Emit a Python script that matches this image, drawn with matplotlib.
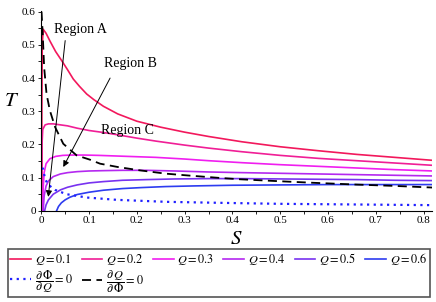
import matplotlib
matplotlib.use('Agg')
import matplotlib.pyplot as plt
from matplotlib.ticker import MultipleLocator

# values
S_q1 = [0.0008, 0.0012, 0.002, 0.004, 0.01, 0.018, 0.03, 0.043, 0.055, 0.067, 0.08, 0.095, 0.11,
        0.13, 0.16, 0.2, 0.25, 0.3, 0.35, 0.42, 0.5, 0.58, 0.66, 0.74, 0.82]
T_q1 = [0.0, 0.3, 0.5, 0.547, 0.535, 0.512, 0.48, 0.452, 0.425, 0.397, 0.375, 0.352, 0.335,
        0.315, 0.292, 0.27, 0.252, 0.237, 0.224, 0.208, 0.193, 0.181, 0.17, 0.161, 0.152]

S_q2 = [0.0012, 0.0015, 0.003, 0.008, 0.015, 0.025, 0.04, 0.055, 0.075, 0.1, 0.13, 0.16, 0.2,
        0.24, 0.3, 0.35, 0.42, 0.5, 0.58, 0.66, 0.74, 0.82]
T_q2 = [0.0, 0.2, 0.245, 0.259, 0.262, 0.262, 0.259, 0.256, 0.249, 0.242, 0.236, 0.229, 0.219,
        0.21, 0.198, 0.189, 0.178, 0.167, 0.158, 0.151, 0.144, 0.137]

S_q3 = [0.003, 0.004, 0.006, 0.01, 0.018, 0.03, 0.045, 0.065, 0.09, 0.12, 0.16, 0.2, 0.24,
        0.3, 0.35, 0.42, 0.5, 0.58, 0.66, 0.74, 0.82]
T_q3 = [0.0, 0.07, 0.115, 0.142, 0.157, 0.164, 0.167, 0.168, 0.168, 0.167, 0.165, 0.163, 0.161,
        0.156, 0.151, 0.145, 0.139, 0.134, 0.129, 0.124, 0.12]

S_q4 = [0.004, 0.006, 0.01, 0.015, 0.025, 0.04, 0.055, 0.075, 0.1, 0.13, 0.17, 0.22, 0.28,
        0.35, 0.42, 0.5, 0.58, 0.66, 0.74, 0.82]
T_q4 = [0.0, 0.045, 0.075, 0.09, 0.103, 0.111, 0.115, 0.118, 0.12, 0.121, 0.122, 0.122, 0.12,
        0.117, 0.115, 0.113, 0.111, 0.109, 0.107, 0.105]

S_q5 = [0.007, 0.01, 0.015, 0.025, 0.04, 0.055, 0.075, 0.1, 0.13, 0.17, 0.22, 0.28, 0.35,
        0.42, 0.5, 0.58, 0.66, 0.74, 0.82]
T_q5 = [0.0, 0.018, 0.033, 0.05, 0.063, 0.071, 0.078, 0.084, 0.088, 0.092, 0.094, 0.096, 0.097,
        0.097, 0.096, 0.095, 0.094, 0.092, 0.091]

S_q6 = [0.032, 0.036, 0.042, 0.05, 0.06, 0.075, 0.1, 0.13, 0.17, 0.21, 0.26, 0.32, 0.4,
        0.5, 0.6, 0.7, 0.82]
T_q6 = [0.0, 0.013, 0.024, 0.033, 0.041, 0.049, 0.056, 0.062, 0.067, 0.07, 0.073, 0.075, 0.077,
        0.078, 0.079, 0.079, 0.079]

# dPhi/dQ = 0 (dotted)
S_dot = [0.002, 0.004, 0.008, 0.015, 0.029, 0.053, 0.095, 0.158, 0.262, 0.374, 0.5, 0.66, 0.82]
T_dot = [0.13, 0.125, 0.095, 0.078, 0.063, 0.05, 0.04, 0.033, 0.027, 0.024, 0.021, 0.019, 0.017]

# dQ/dPhi = 0 (dashed)
S_dash = [0.0005, 0.002, 0.003, 0.006, 0.011, 0.018, 0.029, 0.046, 0.074, 0.102, 0.123, 0.16,
          0.206, 0.26, 0.311, 0.374, 0.416, 0.5, 0.576, 0.66, 0.74, 0.82]
T_dash = [0.6, 0.56, 0.532, 0.432, 0.352, 0.302, 0.252, 0.202, 0.167, 0.154, 0.142, 0.132,
          0.122, 0.112, 0.106, 0.099, 0.095, 0.089, 0.084, 0.079, 0.075, 0.07]

q_labels = ['0.1', '0.2', '0.3', '0.4', '0.5', '0.6']
q_colors = ['#f2185c', '#f01e96', '#f01ef0', '#b428f0', '#7832f0', '#2d3cf0']

plt.rcParams['font.family'] = ['Liberation Serif', 'DejaVu Serif']
plt.rcParams['mathtext.fontset'] = 'stix'

fig = plt.figure(figsize=(4.36, 3.02), dpi=100)
ax = fig.add_axes([0.0947, 0.302, 0.8953, 0.6614])

curves = [(S_q1, T_q1), (S_q2, T_q2), (S_q3, T_q3), (S_q4, T_q4), (S_q5, T_q5), (S_q6, T_q6)]
q_lines = []
for (s, t), lab, c in zip(curves, q_labels, q_colors):
    ln, = ax.plot(s, t, color=c, lw=1.2, label=r'$Q = %s$' % lab)
    q_lines.append(ln)

dot_line, = ax.plot(S_dot, T_dot, color='#2020ff', lw=1.6, linestyle=(0, (1, 2)),
                    label=r'$\dfrac{\partial\,\Phi}{\partial\,Q} = 0$')
dash_line, = ax.plot(S_dash, T_dash, color='black', lw=1.3, linestyle=(0, (5, 3)),
                     label=r'$\dfrac{\partial\,Q}{\partial\,\Phi} = 0$')

ax.set_xlim(0, 0.817)
ax.set_ylim(0, 0.602)
ax.spines['top'].set_visible(False)
ax.spines['right'].set_visible(False)
ax.xaxis.set_minor_locator(MultipleLocator(0.05))
ax.yaxis.set_minor_locator(MultipleLocator(0.05))
ax.set_xticks([0, 0.1, 0.2, 0.3, 0.4, 0.5, 0.6, 0.7, 0.8])
ax.set_xticklabels(['0', '0.1', '0.2', '0.3', '0.4', '0.5', '0.6', '0.7', '0.8'])
ax.set_yticks([0, 0.1, 0.2, 0.3, 0.4, 0.5, 0.6])
ax.set_yticklabels(['0', '0.1', '0.2', '0.3', '0.4', '0.5', '0.6'])
ax.tick_params(which='both', labelsize=8, length=2, width=0.6, pad=2)

ax.set_xlabel(r'$S$', fontsize=15, labelpad=3)
ax.set_ylabel(r'$T$', fontsize=15, rotation=0)
ax.yaxis.set_label_coords(-0.075, 0.5)

# region labels and arrows
arrow = dict(arrowstyle='-|>', color='black', lw=0.7, mutation_scale=9, shrinkA=0, shrinkB=0)
ax.text(0.081, 0.546, 'Region A', fontsize=10, ha='center', va='center')
ax.annotate('', xy=(0.0146, 0.042), xytext=(0.05, 0.513), arrowprops=arrow)
ax.text(0.186, 0.444, 'Region B', fontsize=10, ha='center', va='center')
ax.annotate('', xy=(0.046, 0.132), xytext=(0.144, 0.40), arrowprops=arrow)
ax.text(0.181, 0.242, 'Region C', fontsize=10, ha='center', va='center')

# column-major order so that row 1 holds the Q curves
handles = [q_lines[0], dot_line, q_lines[1], dash_line] + q_lines[2:]
leg = fig.legend(handles=handles, loc='upper left', ncol=6, mode='expand',
                 bbox_to_anchor=(8 / 436, 1 - 249 / 302, 422 / 436, 0.0),
                 fontsize=8.8, handlelength=1.7, handletextpad=0.3, columnspacing=0.4,
                 borderpad=0.2, labelspacing=0.05, fancybox=False, framealpha=1,
                 edgecolor='#555555', borderaxespad=0)
leg.get_frame().set_linewidth(1.2)

fig.savefig('out.png', dpi=100)
